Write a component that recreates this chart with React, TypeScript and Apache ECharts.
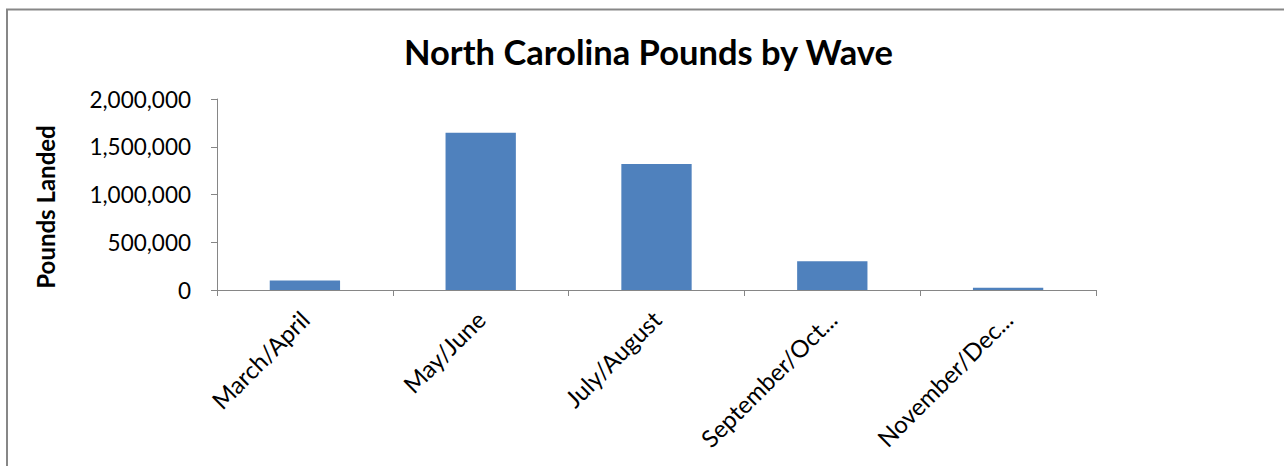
import React, { useEffect, useRef } from "react";
import * as echarts from "echarts";

const titleText = "North Carolina Pounds by Wave";
const yAxisName = "Pounds Landed";
const categories = ["March/April", "May/June", "July/August", "September/Oct...", "November/Dec..."];
const poundsLanded = [100000, 1647000, 1319000, 300000, 24000];
const yMin = 0;
const yMax = 2000000;
const yInterval = 500000;

export default function App() {
  const ref = useRef<HTMLDivElement>(null);
  useEffect(() => {
    document.body.style.margin = "0";
    const chart = echarts.init(ref.current!, null, { renderer: "svg" });
    const font = "Lato, 'Open Sans', sans-serif";
    chart.setOption({
      animation: false,
      backgroundColor: "#ffffff",
      title: {
        text: titleText,
        left: 399,
        top: 29,
        textStyle: { fontFamily: font, fontWeight: "bold", fontSize: 34.5, color: "#000" },
      },
      graphic: [
        {
          type: "rect",
          shape: { x: 7, y: 9.5, width: 1400, height: 500 },
          style: { fill: "none", stroke: "#878787", lineWidth: 2 },
          silent: true,
        },
      ],
      grid: { left: 217, right: 188, top: 99, bottom: 176, containLabel: false },
      xAxis: {
        type: "category",
        data: categories,
        axisLine: { lineStyle: { color: "#868686", width: 1 } },
        axisTick: { show: true, length: 6, lineStyle: { color: "#868686" }, alignWithLabel: false },
        axisLabel: { rotate: 45, fontFamily: font, fontSize: 24, color: "#000", margin: 25, interval: 0 },
      },
      yAxis: {
        type: "value",
        min: yMin,
        max: yMax,
        interval: yInterval,
        name: yAxisName,
        nameLocation: "middle",
        nameGap: 160,
        nameTextStyle: {
          fontFamily: font,
          fontWeight: "bold",
          fontSize: 24,
          color: "#000",
          padding: [0, 25, 0, 0],
        },
        axisLine: { show: true, lineStyle: { color: "#868686", width: 1 } },
        axisTick: { show: true, length: 6, lineStyle: { color: "#868686" } },
        splitLine: { show: false },
        axisLabel: {
          fontFamily: font,
          fontSize: 22.5,
          color: "#000",
          margin: 26,
          formatter: (v: number) => v.toLocaleString("en-US"),
        },
      },
      series: [
        {
          type: "bar",
          data: poundsLanded,
          barWidth: "40%",
          itemStyle: { color: "#4F81BD" },
        },
      ],
    });
    return () => chart.dispose();
  }, []);
  return <div ref={ref} style={{ width: 1284, height: 466 }} />;
}
